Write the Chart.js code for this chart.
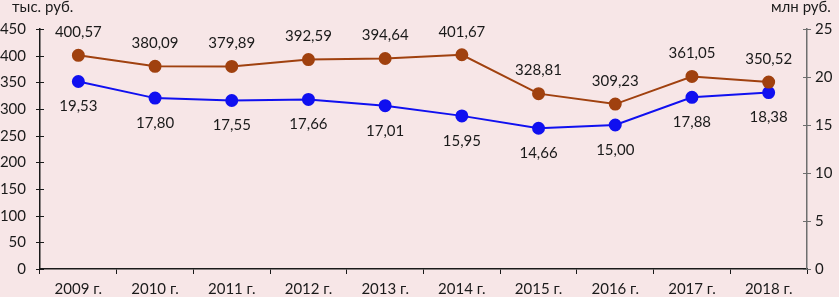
<!DOCTYPE html>
<html><head><meta charset="utf-8">
<script src="https://cdn.jsdelivr.net/npm/chart.js@4/dist/chart.umd.min.js"></script>
<style>
html,body{margin:0;padding:0;background:#f7e6e7;}
#wrap{position:relative;width:839px;height:297px;}
.unit{position:absolute;top:-3px;font:15px Lato, sans-serif;color:#1a1a1a;}
</style></head><body>
<div id="wrap">
<canvas id="c" width="839" height="297"></canvas>
<div class="unit" style="left:12px">тыс. руб.</div>
<div class="unit" style="left:771px">млн руб.</div>
</div>
<script>
const categories = ['2009 г.','2010 г.','2011 г.','2012 г.','2013 г.','2014 г.','2015 г.','2016 г.','2017 г.','2018 г.'];
const thousandRub = [400.57,380.09,379.89,392.59,394.64,401.67,328.81,309.23,361.05,350.52];
const millionRub = [19.53,17.80,17.55,17.66,17.01,15.95,14.66,15.00,17.88,18.38];
const leftTicks = [0,50,100,150,200,250,300,350,400,450];
const rightTicks = [0,5,10,15,20,25];

const FONT = 'Lato, sans-serif';
const fmt = v => v.toFixed(2).replace('.', ',');

const labelPlugin = {
  id:'vals',
  afterDatasetsDraw(chart){
    const ctx = chart.ctx;
    ctx.save();
    ctx.font = '15px ' + FONT;
    ctx.fillStyle = '#1a1a1a';
    ctx.textAlign = 'center';
    ctx.textBaseline = 'middle';
    chart.data.datasets.forEach((ds, i) => {
      const meta = chart.getDatasetMeta(i);
      const off = i === 0 ? -23 : 25;
      meta.data.forEach((p, j) => {
        ctx.fillText(fmt(ds.data[j]), p.x, p.y + off);
      });
    });
    ctx.restore();
  }
};

const crossTicks = {
  id:'cross',
  afterDraw(chart){
    const ctx = chart.ctx;
    ctx.save();
    ctx.lineWidth = 1;
    const l = chart.scales.y, r = chart.scales.y1;
    ctx.strokeStyle = '#1a1a1a';
    l.ticks.forEach(t => { const y = Math.round(l.getPixelForValue(t.value)) + 0.5; ctx.beginPath(); ctx.moveTo(l.right - 4, y); ctx.lineTo(l.right + 4, y); ctx.stroke(); });
    ctx.strokeStyle = '#6e6e6e';
    r.ticks.forEach(t => { const y = Math.round(r.getPixelForValue(t.value)) + 0.5; ctx.beginPath(); ctx.moveTo(r.left - 4, y); ctx.lineTo(r.left + 4, y); ctx.stroke(); });
    ctx.restore();
  }
};

new Chart(document.getElementById('c'), {
  type:'line',
  data:{
    labels: categories,
    datasets:[
      {data: thousandRub, yAxisID:'y', borderColor:'#a0410f', backgroundColor:'#a0410f', pointBackgroundColor:'#a0410f', pointBorderColor:'#a0410f', borderWidth:2, pointRadius:5.5, tension:0},
      {data: millionRub, yAxisID:'y1', borderColor:'#1010f0', backgroundColor:'#1010f0', pointBackgroundColor:'#1010f0', pointBorderColor:'#1010f0', borderWidth:2, pointRadius:5.5, tension:0}
    ]
  },
  options:{
    responsive:false, animation:false,
    layout:{padding:{top:29, left:0, right:0, bottom:0}},
    plugins:{legend:{display:false}, tooltip:{enabled:false}},
    scales:{
      x:{
        offset:true,
        grid:{offset:true, drawOnChartArea:false, tickLength:5, color:'#1a1a1a'},
        border:{color:'#1a1a1a', width:1.5},
        ticks:{font:{family:FONT, size:15}, color:'#1a1a1a', padding:6, maxRotation:0},
        afterFit(s){ s.height = 28; }
      },
      y:{
        position:'left', min:0, max:450,
        afterBuildTicks(s){ s.ticks = leftTicks.map(v => ({value:v})); },
        grid:{drawOnChartArea:false, drawTicks:false},
        border:{color:'#1a1a1a', width:1.5},
        ticks:{font:{family:FONT, size:15}, color:'#1a1a1a', padding:14},
        afterFit(s){ s.width = 40; }
      },
      y1:{
        position:'right', min:0, max:25,
        afterBuildTicks(s){ s.ticks = rightTicks.map(v => ({value:v})); },
        grid:{drawOnChartArea:false, drawTicks:false},
        border:{color:'#6e6e6e', width:1.5},
        ticks:{font:{family:FONT, size:15}, color:'#1a1a1a', padding:8},
        afterFit(s){ s.width = 32; }
      }
    }
  },
  plugins:[labelPlugin, crossTicks]
});
</script>
</body></html>
